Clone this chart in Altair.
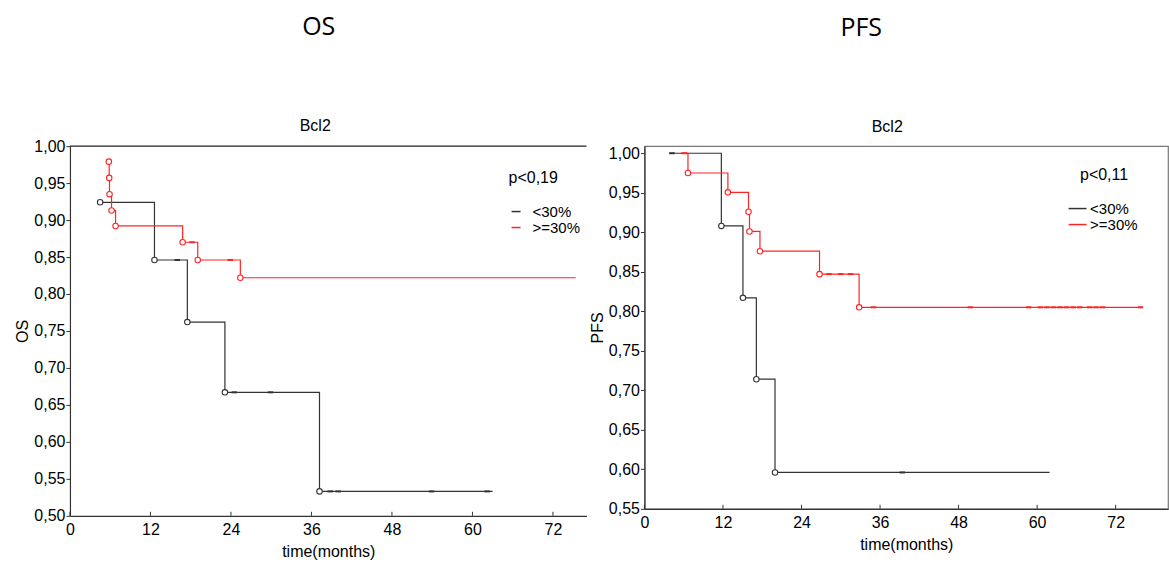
import altair as alt
import pandas as pd

# Kaplan-Meier step curves: event/observation times (months) and survival estimates
os_low_t = [4.5, 12.6, 17.5, 23.1, 37.2, 63.0]
os_low_s = [0.924, 0.846, 0.762, 0.667, 0.533, 0.533]
os_low_mark = [1, 1, 1, 1, 1, 0]

os_high_t = [5.8, 5.85, 5.9, 6.2, 6.8, 16.8, 19.05, 25.4, 75.4]
os_high_s = [0.979, 0.957, 0.935, 0.913, 0.892, 0.870, 0.846, 0.822, 0.822]
os_high_mark = [1, 1, 1, 1, 1, 1, 1, 1, 0]

pfs_low_t = [3.8, 11.75, 15.05, 17.1, 19.95, 61.9]
pfs_low_s = [1.0, 0.908, 0.817, 0.714, 0.596, 0.596]
pfs_low_mark = [0, 1, 1, 1, 1, 0]

pfs_high_t = [5.6, 6.65, 12.75, 15.9, 16.05, 17.65, 26.75, 32.8, 76.1]
pfs_high_s = [1.0, 0.975, 0.9505, 0.926, 0.901, 0.876, 0.847, 0.805, 0.805]
pfs_high_mark = [0, 1, 1, 1, 1, 1, 1, 1, 0]

# censored observations (small ticks on the curves)
os_low_cens_t = [16.0, 24.5, 29.9, 38.8, 40.0, 53.9, 62.2]
os_low_cens_s = [0.846, 0.667, 0.667, 0.533, 0.533, 0.533, 0.533]
os_high_cens_t = [18.2, 23.9]
os_high_cens_s = [0.870, 0.846]

pfs_low_cens_t = [4.2, 39.4]
pfs_low_cens_s = [1.0, 0.596]
pfs_high_cens_t = [6.1, 28.2, 30.0, 31.5, 35.0, 49.8, 58.7, 60.5, 61.5, 62.5,
                   63.5, 64.5, 65.5, 66.5, 68.0, 69.0, 70.0, 75.8]
pfs_high_cens_s = [1.0, 0.847, 0.847, 0.847] + [0.805] * 14

groups = ["<30%", ">=30%"]
group_colors = ["#333333", "#ff2424"]

x_ticks = [0, 12, 24, 36, 48, 60, 72]
os_y_ticks = [0.50, 0.55, 0.60, 0.65, 0.70, 0.75, 0.80, 0.85, 0.90, 0.95, 1.00]
pfs_y_ticks = [0.55, 0.60, 0.65, 0.70, 0.75, 0.80, 0.85, 0.90, 0.95, 1.00]

FONT = "Liberation Sans"


def curve_frame(t, s, mark, group):
    return pd.DataFrame({"t": t, "s": s, "mark": mark, "group": group})


def cens_frame(t, s, group):
    return pd.DataFrame({"t": t, "s": s, "group": group})


def panel(title, ytitle, curves, cens, y_ticks, x_max, y_min, y_max, w, h,
          pval, legend_x, legend_y, sym_shape, label_offset, title_anchor,
          sub_dx, sub_offset, title_dx, full_border):
    data = pd.concat(curves, ignore_index=True)
    cdata = pd.concat(cens, ignore_index=True)

    x = alt.X("t:Q", scale=alt.Scale(domain=[0, x_max], nice=False),
              axis=alt.Axis(values=x_ticks, title="time(months)", tickSize=0,
                            labelPadding=6, titlePadding=6, format="d",
                            labelFlush=False, labelOverlap=False))
    y = alt.Y("s:Q", scale=alt.Scale(domain=[y_min, y_max], nice=False, zero=False),
              axis=alt.Axis(values=y_ticks, title=ytitle, tickSize=4, labelPadding=1,
                            titlePadding=3, labelFlush=False, labelOverlap=False,
                            labelExpr="replace(format(datum.value, '.2f'), '.', ',')"))
    cscale = alt.Scale(domain=groups, range=group_colors)
    color = alt.Color("group:N", scale=cscale,
                      legend=alt.Legend(title=pval, orient="none", legendX=legend_x,
                                        legendY=legend_y, symbolType=sym_shape,
                                        symbolSize=81, symbolStrokeWidth=1.5,
                                        labelOffset=label_offset, titlePadding=18,
                                        rowPadding=-4, titleAnchor=title_anchor,
                                        padding=0))
    stroke = alt.Stroke("group:N", scale=cscale, legend=None)

    steps = alt.Chart(data).mark_line(interpolate="step-after", strokeWidth=1.2).encode(
        color=color)
    circles = alt.Chart(data).transform_filter(alt.datum.mark == 1).mark_point(
        shape="circle", filled=True, fill="white", fillOpacity=1, size=30,
        strokeWidth=1.1, opacity=1).encode(stroke=stroke)
    ticks_c = alt.Chart(cdata).mark_point(shape="stroke", size=30, strokeWidth=2,
                                          opacity=1).encode(stroke=stroke)
    xticks = alt.Chart(pd.DataFrame({"t": x_ticks})).mark_rule(
        color="#333333", strokeWidth=1).encode(y=alt.value(h), y2=alt.value(h - 4))

    layers = [steps, circles, ticks_c, xticks]
    if not full_border:
        top = alt.Chart(pd.DataFrame({"t": [0]})).mark_rule(
            color="#222222", strokeWidth=1.2).encode(
            x=alt.value(0), x2=alt.value(w), y=alt.value(0))
        layers.append(top)

    view = alt.ViewBackground(stroke="#777777" if full_border else "transparent",
                              strokeWidth=1.2)
    inner = alt.layer(*layers).encode(x=x, y=y).properties(
        width=w, height=h, view=view,
        title=alt.TitleParams(text="Bcl2", font=FONT, fontSize=16, fontWeight="normal",
                              color="black", offset=sub_offset, anchor="middle",
                              frame="group", dx=sub_dx))
    return alt.vconcat(inner).properties(
        title=alt.TitleParams(text=title, fontSize=25, font="Open Sans",
                              fontWeight="normal", color="black", offset=78,
                              anchor="middle", frame="group", dx=title_dx))


os_chart = panel(
    "OS", "OS",
    [curve_frame(os_low_t, os_low_s, os_low_mark, groups[0]),
     curve_frame(os_high_t, os_high_s, os_high_mark, groups[1])],
    [cens_frame(os_low_cens_t, os_low_cens_s, groups[0]),
     cens_frame(os_high_cens_t, os_high_cens_s, groups[1])],
    os_y_ticks, 77, 0.50, 1.00, 517, 370,
    "p<0,19", 439, 24, "stroke", 9, "start", -13, 4, 249, False)

pfs_chart = panel(
    "PFS", "PFS",
    [curve_frame(pfs_low_t, pfs_low_s, pfs_low_mark, groups[0]),
     curve_frame(pfs_high_t, pfs_high_s, pfs_high_mark, groups[1])],
    [cens_frame(pfs_low_cens_t, pfs_low_cens_s, groups[0]),
     cens_frame(pfs_high_cens_t, pfs_high_cens_s, groups[1])],
    pfs_y_ticks, 80, 0.55, 1.009, 524, 363,
    "p<0,11", 426, 21, "M-2,0L2,0", 5, "middle", -19, 10, 217, True)

chart = alt.hconcat(os_chart, pfs_chart, spacing=0).resolve_scale(
    color="independent", stroke="independent").resolve_legend(
    color="independent").properties(
    padding={"left": 14, "top": 14, "right": 0, "bottom": 5},
    background="white"
).configure_axis(
    labelFont=FONT, titleFont=FONT, labelFontSize=16, titleFontSize=16,
    titleFontWeight="normal", labelColor="black", titleColor="black",
    domainColor="#333333", tickColor="#333333", grid=False, domainWidth=1.2
).configure_legend(
    labelFont=FONT, titleFont=FONT, labelFontSize=15, titleFontSize=16,
    titleFontWeight="normal", labelColor="black", titleColor="black"
)

chart.save("out.html", embed_options={"renderer": "svg", "actions": False})
